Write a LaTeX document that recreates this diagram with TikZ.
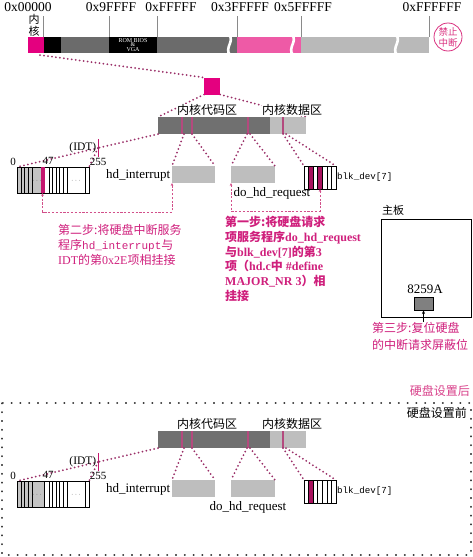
\documentclass[tikz,border=0pt]{standalone}
\usepackage{fontspec}
\setmainfont{Liberation Serif}
\setmonofont{Liberation Mono}
\newfontfamily\cjk{Noto Sans CJK SC}
\usetikzlibrary{arrows.meta,backgrounds}
\newcommand\zh[1]{{\cjk #1}}
\definecolor{magA}{HTML}{E4007F}
\definecolor{pinkB}{HTML}{EE5AA6}
\definecolor{bgray}{HTML}{6B6B6B}
\definecolor{lgray}{HTML}{B9B9B9}
\definecolor{kdark}{HTML}{707070}
\definecolor{klight}{HTML}{BEBEBE}
\definecolor{kstripe}{HTML}{B44A7E}
\definecolor{tgray}{HTML}{C4C4C4}
\definecolor{boxg}{HTML}{BEBEBE}
\definecolor{idtc}{HTML}{C4166E}
\definecolor{blkc}{HTML}{A8125E}
\definecolor{dotc}{HTML}{9A2F68}
\definecolor{dashc}{HTML}{D2508A}
\definecolor{stepc}{HTML}{CF1F7C}
\definecolor{tickc}{HTML}{8A8A8A}
\definecolor{banc}{HTML}{D9307F}
\definecolor{afterc}{HTML}{D8408A}
\tikzset{
  >={Stealth[length=3pt,width=2.6pt]},
  rect/.style={rectangle, inner sep=0pt, outer sep=0pt, draw=none},
  dotline/.style={draw=dotc, line width=2pt, line cap=round, dash pattern=on 0pt off 4pt},
  dashp/.style={draw=dashc, line width=0.6pt, dash pattern=on 2.2pt off 1.6pt},
  lab/.style={font=\fontsize{13}{15}\selectfont, inner sep=0.5pt},
  num/.style={font=\fontsize{11}{12}\selectfont, inner sep=0pt},
  zhlab/.style={font=\cjk\fontsize{12}{14}\selectfont, fill=white, inner sep=0.5pt},
  toplab/.style={font=\fontsize{13.5}{15}\selectfont, inner sep=0pt},
  dotsl/.style={font=\fontsize{7}{8}\selectfont, inner sep=0pt, text=black!70},
  steptext/.style={align=left, text=stepc, inner sep=0pt, anchor=north west},
}
\newcommand\kpart[3]{%
  \node[rect, fill=kdark, minimum width=112pt, minimum height=17pt, anchor=north west] (#1code) at (158,117) {};
  \node[rect, fill=klight, minimum width=36pt, minimum height=17pt, anchor=north west] (#1data) at (270,117) {};
  \foreach \sx in {182,192,248,283}{\fill[kstripe] (\sx-0.9,117) rectangle (\sx+0.9,134);}
  \coordinate (#1s1) at (184,134);
  \coordinate (#1s2) at (192,134);
  \coordinate (#1s3) at (247,134);
  \coordinate (#1s4) at (250,134);
  \coordinate (#1s5) at (283,134);
  \coordinate (#1s6) at (286,134);
  % IDT table
  \fill[tgray] (17,167) rectangle (44.5,193);
  \foreach \lx in {21,24.5,28,32,44.5,49,52.5,56,59.5,63,67,85}{\draw[line width=0.5pt] (\lx,167) -- (\lx,193);}
  \node[rect, draw=black, line width=0.6pt, minimum width=72pt, minimum height=26pt, anchor=north west] (#1idt) at (17,167) {};
  \node[dotsl] (#1d1) at (37,181) {$\cdots$};
  \node[dotsl] (#1d2) at (76,181) {$\cdots$};
  \draw[idtc, line width=0.8pt] (98,139) -- (98,157);
  \coordinate (#1tk) at (98,148);
  % boxes
  \node[rect, fill=boxg, minimum width=43pt, minimum height=17pt, anchor=north west] (#1hdi) at (172,166) {};
  \node[rect, fill=boxg, minimum width=44pt, minimum height=17pt, anchor=north west] (#1dhr) at (231,166) {};
  \foreach \c in {#3}{\fill[blkc] (304+\c*32/7,166) rectangle (304+\c*32/7+32/7,189);}
  \foreach \c in {1,...,6}{\draw[line width=0.5pt] (304+\c*32/7,166) -- (304+\c*32/7,189);}
  \node[rect, draw=black, line width=0.6pt, minimum width=32pt, minimum height=23pt, anchor=north west] (#1blk) at (304,166) {};
  % dotted connectors
  \draw[dotline] (#1code.south west) -- (#1tk);
  \draw[dotline] (#1tk) -- (#1idt.north west);
  \draw[dotline] (#1tk) -- (#1idt.north east);
  \draw[dotline] (#1s1) -- (#1hdi.north west);
  \draw[dotline] (#1s2) -- (#1hdi.north east);
  \draw[dotline] (#1s3) -- (#1dhr.north west);
  \draw[dotline] (#1s4) -- (#1dhr.north east);
  \draw[dotline] (#1s5) -- (#1blk.north west);
  \draw[dotline] (#1s6) -- (#1blk.north east);
  % labels
  \node[zhlab] (#1lc) at (207,110) {内核代码区};
  \node[zhlab] (#1ld) at (292,110) {内核数据区};
  \node[num, anchor=east, font=\fontsize{11.5}{13}\selectfont] (#1idtl) at (96.5,148) {(IDT)};
  \node[num] (#1n0) at (13,162) {0};
  \node[num] (#1n47) at (48,161) {47};
  \node[num] (#1n255) at (98,162) {255};
  \node[lab, anchor=east] (#1hdil) at (171,175) {hd\_interrupt};
  \node[lab] (#1dhrl) at (#2,193) {do\_hd\_request};
  \node[anchor=west, inner sep=1pt, font=\ttfamily\fontsize{9.2}{11}\selectfont] (#1blkl) at (#1blk.east) {blk\_dev[7]};
}
\begin{document}
\begin{tikzpicture}[x=1pt, y=-1pt]
\useasboundingbox (0,0) rectangle (473,557);
% ---------- top memory bar ----------
\foreach \tx in {43,109,157,237,301,429}{\draw[tickc, line width=0.6pt] (\tx,16) -- (\tx,37);}
\node[rect, fill=magA, minimum width=16pt, minimum height=16pt, anchor=north west] (tpink) at (28,37) {};
\fill[black] (44,37) rectangle (61,53);
\fill[bgray] (61,37) rectangle (109,53);
\node[rect, fill=black, minimum width=48pt, minimum height=16pt, anchor=north west, text=white, align=center, font=\fontsize{6}{4.8}\selectfont] (rom) at (109,37) {ROM BIOS\\\&\\VGA};
\fill[bgray] (157,37) rectangle (237,53);
\fill[pinkB] (237,37) rectangle (301,53);
\fill[lgray] (301,37) rectangle (429,53);
\foreach \bx in {229,292,396}{\draw[white, line width=2.6pt] (\bx,35) .. controls (\bx+6,41) and (\bx-5,48) .. (\bx+1,55);}
\node[toplab] (a0) at (28,7) {0x00000};
\node[toplab] (a1) at (111,7) {0x9FFFF};
\node[toplab] (a2) at (171,7) {0xFFFFF};
\node[toplab] (a3) at (240,7) {0x3FFFFF};
\node[toplab] (a4) at (303,7) {0x5FFFFF};
\node[toplab] (a5) at (432,7) {0xFFFFFF};
\node[align=center, inner sep=0pt, font=\cjk\fontsize{11}{12}\selectfont] (nh) at (34,25) {内\\核};
\node[circle, draw=banc, line width=0.8pt, minimum size=28pt, inner sep=0pt, align=center, text=banc, font=\cjk\fontsize{9.5}{11}\selectfont] (ban) at (448,37) {禁止\\中断};
% pink square
\node[rect, fill=magA, minimum width=16pt, minimum height=17pt] (psq) at (212,86) {};
\coordinate (tpb) at (40,55);
\draw[dotline] (tpb) -- (psq.north west);
% ---------- kernel part (after) ----------
\kpart{T}{272}{1,3}
\fill[idtc] (40.5,167.3) rectangle (44.5,192.7);
\begin{scope}[on background layer]
\draw[dotline] (psq.south west) -- (Tcode.north west);
\draw[dotline] (psq.south east) -- (Tdata.north east);
\end{scope}
\coordinate (idtpin) at (42.5,193);
\draw[dashp, <->] (idtpin) -- ++(0,19) -| (Thdi.south west);
\draw[dashp, <->] (Tdhr.south west) -- ++(0,28) -| (Tblk.south);
% step texts
\node[steptext, font=\fontsize{12}{15}\selectfont] (st2) at (58,224) {\zh{第二步:将硬盘中断服务}\\\zh{程序}{\ttfamily\fontsize{11}{15}\selectfont hd\_interrupt}\zh{与}\\IDT\zh{的第}0x2E\zh{项相挂接}};
\node[steptext, font=\bfseries\fontsize{12}{14.8}\selectfont] (st1) at (225,216) {\zh{第一步:将硬盘请求}\\\zh{项服务程序}do\_hd\_request\\\zh{与}blk\_dev[7]\zh{的第}3\\\zh{项（}hd.c\zh{中} \#define\\MAJOR\_NR 3\zh{）相}\\\zh{挂接}};
% motherboard
\node[anchor=west, inner sep=0pt, font=\cjk\fontsize{11}{12}\selectfont] (mbl) at (382,210) {主板};
\node[rect, draw=black, line width=0.7pt, minimum width=90pt, minimum height=98pt, anchor=north west] (mb) at (381,219) {};
\node[lab] (c8259) at (425,289) {8259A};
\node[rect, draw=black, line width=0.5pt, fill=black!50, minimum width=19pt, minimum height=13pt] (chip) at (423.5,303.5) {};
\node[steptext, font=\cjk\fontsize{12}{17}\selectfont] (st3) at (372,322) {第三步:复位硬盘\\的中断请求屏蔽位};
\draw[line width=0.6pt, -{Stealth[length=4pt,width=3pt]}] (chip.south |- st3.north) -- (chip.south);
% ---------- before ----------
\node[anchor=east, inner sep=0pt, text=afterc, font=\cjk\fontsize{12}{14}\selectfont] (after) at (470,391) {硬盘设置后};
\draw[black!75, line width=1.1pt, line cap=round, dash pattern=on 0.8pt off 8pt] (2,403) rectangle (471,555);
\node[anchor=east, inner sep=0pt, font=\cjk\fontsize{12}{14}\selectfont] (before) at (467,413) {硬盘设置前};
\begin{scope}[shift={(0,314)}]
\kpart{B}{248}{1}
\end{scope}
\end{tikzpicture}
\end{document}
